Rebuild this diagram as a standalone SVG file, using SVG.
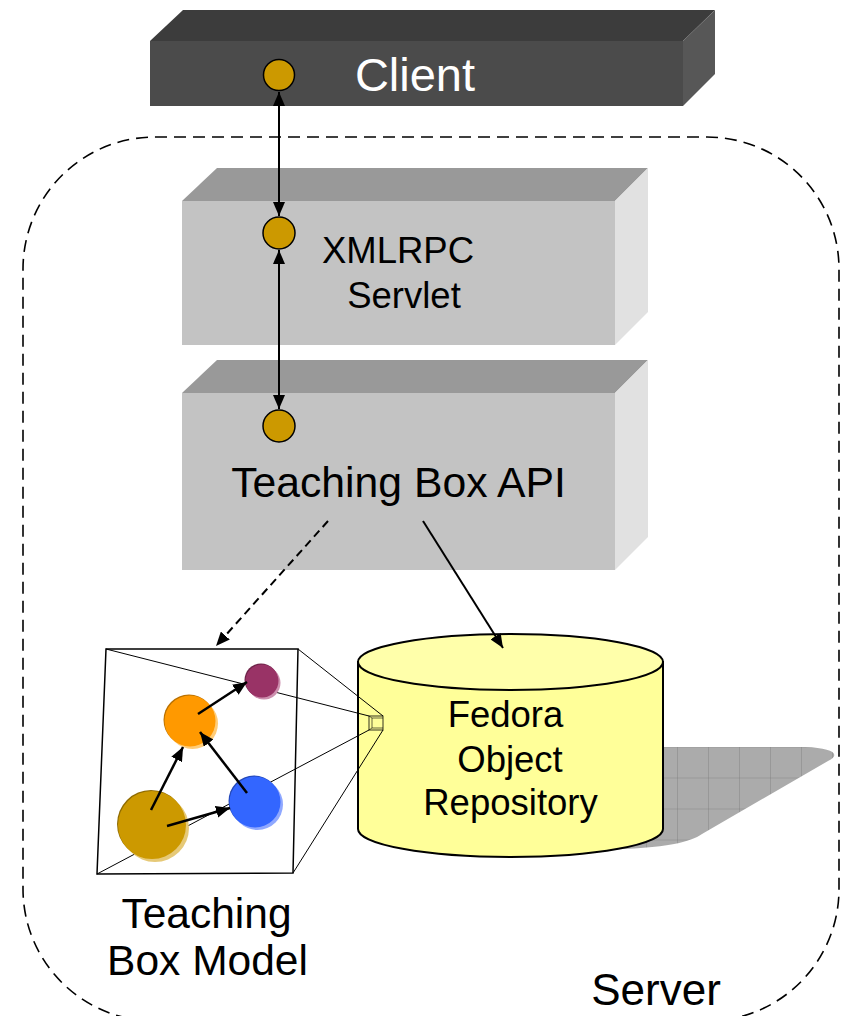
<svg xmlns="http://www.w3.org/2000/svg" width="848" height="1016" viewBox="0 0 848 1016">
<style>
  text { font-family: "Liberation Sans", Arial, sans-serif; fill: #000; }
  .port { fill: #CC9900; stroke: #000; stroke-width: 1.5; }
  .conn { stroke: #000; stroke-width: 2; fill: none; }
  .thin { stroke: #000; stroke-width: 1; fill: none; }
  .g-top { fill: #999999; }
  .g-front { fill: #C3C3C3; }
  .g-side { fill: #E1E1E1; }
</style>
<defs>
  <marker id="ah" viewBox="0 0 14 12" refX="14" refY="6" markerWidth="14" markerHeight="12" markerUnits="userSpaceOnUse" orient="auto-start-reverse">
    <path d="M0,0 L14,6 L0,12 z" fill="#000"/>
  </marker>
  <pattern id="grid" patternUnits="userSpaceOnUse" x="677" y="746.5" width="31" height="31">
    <rect width="31" height="31" fill="#ABABAB"/>
    <path d="M0,0 V31 M0,0 H31" stroke="#7A7A7A" stroke-width="0.8"/>
  </pattern>
</defs>
<rect width="848" height="1016" fill="#fff"/>

<!-- Server boundary -->
<g id="server">
  <rect x="23" y="137" width="816" height="884" rx="132" ry="132" fill="none" stroke="#000" stroke-width="1.6" stroke-dasharray="12,7"/>
  <text x="656" y="1005" font-size="44" text-anchor="middle">Server</text>
</g>

<!-- Client -->
<g id="client">
  <polygon points="150,41 183,10 715,10 683,41" fill="#3C3C3C"/>
  <polygon points="683,41 715,10 715,74 683,106" fill="#575757"/>
  <rect x="150" y="41" width="533" height="65" fill="#4B4B4B"/>
  <circle class="port" cx="279" cy="75" r="15.5"/>
  <text x="415" y="91" font-size="47" text-anchor="middle" style="fill:#fff">Client</text>
</g>

<!-- XMLRPC Servlet -->
<g id="xmlrpc">
  <polygon class="g-top" points="182,201 217,168 648,168 615,201"/>
  <polygon class="g-side" points="615,201 648,168 648,312 615,345"/>
  <rect class="g-front" x="182" y="201" width="433" height="144"/>
  <circle class="port" cx="279" cy="233" r="16"/>
  <text x="398" y="263" font-size="36.5" text-anchor="middle">XMLRPC</text>
  <text x="404" y="308" font-size="36.5" text-anchor="middle">Servlet</text>
</g>

<!-- Teaching Box API -->
<g id="api">
  <polygon class="g-top" points="182,393 217,360 648,360 615,393"/>
  <polygon class="g-side" points="615,393 648,360 648,537 615,570"/>
  <rect class="g-front" x="182" y="393" width="433" height="177"/>
  <circle class="port" cx="279" cy="426" r="16"/>
  <text x="398.5" y="497" font-size="42.7" text-anchor="middle">Teaching Box API</text>
</g>

<!-- Fedora Object Repository -->
<g id="fedora">
  <path d="M600,747 L805,747 C832,748 842,754 828,761 L702,834 C690,842 670,848 600,850 Z" fill="url(#grid)"/>
  <path d="M358,662 L358,829 A152.5,28 0 0 0 663,829 L663,662 Z" fill="#FFFF99" stroke="#000" stroke-width="2"/>
  <ellipse cx="510.5" cy="662" rx="152.5" ry="28" fill="#FFFFAA" stroke="#000" stroke-width="2"/>
  <text x="505.5" y="727" font-size="36.5" text-anchor="middle">Fedora</text>
  <text x="510" y="772" font-size="36.5" text-anchor="middle">Object</text>
  <text x="510.5" y="815" font-size="36.5" text-anchor="middle">Repository</text>
</g>

<!-- Teaching Box Model -->
<g id="model">
  <polygon points="106,649 298,649 293,873 97,874" fill="none" stroke="#000" stroke-width="1.5"/>
  <line class="thin" x1="106" y1="649" x2="369" y2="716"/>
  <line class="thin" x1="298" y1="649" x2="383" y2="716"/>
  <line class="thin" x1="97" y1="874" x2="369" y2="730"/>
  <line class="thin" x1="293" y1="873" x2="383" y2="730"/>
  <rect x="369" y="716" width="14" height="14" fill="#FFFF99" stroke="#000" stroke-width="0.8"/>
  <path d="M372,718 V728 H383 M372,718 H383 M369,716 L372,718 M369,730 L372,728" fill="none" stroke="#000" stroke-width="0.6"/>

  <g id="m-purple">
    <circle cx="264" cy="683" r="16.5" fill="#CC8FAE"/>
    <circle cx="261" cy="680" r="16.5" fill="#6E2449"/>
    <circle cx="262" cy="681" r="16.5" fill="#993366"/>
  </g>
  <g id="m-orange">
    <circle cx="192.5" cy="723.5" r="25.5" fill="#FFCC77"/>
    <circle cx="189" cy="720" r="25.5" fill="#B87000"/>
    <circle cx="190" cy="721" r="25.5" fill="#FF9900"/>
  </g>
  <g id="m-blue">
    <circle cx="257.5" cy="804.5" r="25.5" fill="#8FA8FF"/>
    <circle cx="254" cy="801" r="25.5" fill="#2448B8"/>
    <circle cx="255" cy="802" r="25.5" fill="#3366FF"/>
  </g>
  <g id="m-gold">
    <circle cx="155" cy="828" r="34" fill="#E6C977"/>
    <circle cx="151" cy="824" r="34" fill="#8F6B00"/>
    <circle cx="152" cy="825" r="34" fill="#CC9900"/>
  </g>
  <g fill="none" stroke="#000" stroke-width="2.5">
    <line x1="151" y1="810" x2="183" y2="747" marker-end="url(#ah)"/>
    <line x1="167" y1="826" x2="230" y2="808" marker-end="url(#ah)"/>
    <line x1="247" y1="793" x2="200" y2="732" marker-end="url(#ah)"/>
    <line x1="198" y1="714" x2="247" y2="682" marker-end="url(#ah)"/>
  </g>
  <text x="206.5" y="928" font-size="42.5" text-anchor="middle">Teaching</text>
  <text x="207.5" y="975" font-size="42.5" text-anchor="middle">Box Model</text>
</g>

<!-- Connectors -->
<g id="connectors">
  <line class="conn" x1="279" y1="92" x2="279" y2="216" marker-start="url(#ah)" marker-end="url(#ah)"/>
  <line class="conn" x1="279" y1="250" x2="279" y2="409" marker-start="url(#ah)" marker-end="url(#ah)"/>
  <line class="conn" x1="328" y1="521" x2="216" y2="646" stroke-dasharray="8,5" stroke-width="1.8" marker-end="url(#ah)"/>
  <line class="conn" x1="423" y1="521" x2="503" y2="648" marker-end="url(#ah)"/>
</g>
</svg>
